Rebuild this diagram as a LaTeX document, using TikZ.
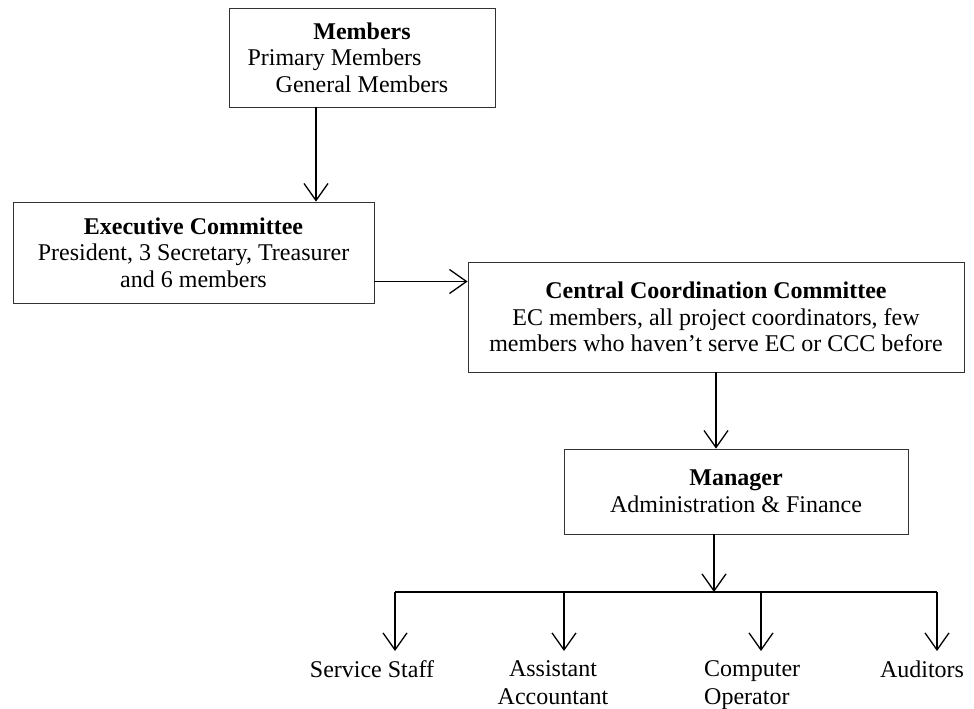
\documentclass[tikz,border=0pt]{standalone}
\usepackage{fontspec}
\setmainfont{Liberation Serif}
\usetikzlibrary{arrows.meta}
\tikzset{
	box/.style={draw=black!80, line width=0.8pt, rectangle, align=center, inner sep=0pt},
	txt/.style={align=center, inner sep=0pt, font=\fontsize{24}{26.5}\selectfont},
	lbl/.style={inner sep=0pt, anchor=north, font=\fontsize{24}{28}\selectfont},
	arr/.style={line width=1.3pt, -{Straight Barb[length=17pt,width=24pt,line width=1.3pt]}},
	bar/.style={line width=1.3pt}
}
\begin{document}
\begin{tikzpicture}[x=1pt,y=-1pt]
		\useasboundingbox (0,0) rectangle (974,709);
		% boxes
		\node (mem) [box, txt, minimum width=266pt, minimum height=99pt] at (362,57.5) {\textbf{Members}\\Primary Members\hspace{55pt}\mbox{}\\General Members};
		\node (exec) [box, txt, minimum width=361pt, minimum height=101pt] at (193.5,252.5) {\textbf{Executive Committee}\\President, 3 Secretary, Treasurer\\and 6 members};
		\node (ccc) [box, txt, minimum width=496pt, minimum height=110pt] at (716,317) {\textbf{Central Coordination Committee}\\EC members, all project coordinators, few\\members who haven’t serve EC or CCC before};
		\node (mgr) [box, txt, minimum width=344pt, minimum height=85pt] at (736,491.5) {\textbf{Manager}\\Administration \& Finance};
		% arrows
		\draw[arr] ([xshift=-46pt]mem.south) -- ([xshift=-46pt]mem.south |- exec.north);
		\draw[arr] ([yshift=-29pt]exec.east) coordinate (e1) -- (e1 -| ccc.west);
		\draw[arr] (ccc.south) -- (ccc.south |- mgr.north);
		\coordinate (hub) at (714,592);
		\draw[arr] (mgr.south -| hub) -- (hub);
		\draw[bar] (395,592) coordinate (b1) -- (937,592) coordinate (b4);
		\coordinate (b2) at (564,592);
		\coordinate (b3) at (761,592);
		\foreach \b in {b1,b2,b3,b4}
			\draw[arr] (\b) -- ++(0,59);
		% staff
		\node (staff) [lbl] at (372,660.5) {Service Staff};
		\node (acct) [lbl, align=center] at (553,660.5) {Assistant\\Accountant};
		\node (oper) [lbl, align=left, anchor=north west] at (704,660.5) {Computer\\Operator};
		\node (aud) [lbl] at (922,660.5) {Auditors};
	\end{tikzpicture}
\end{document}
